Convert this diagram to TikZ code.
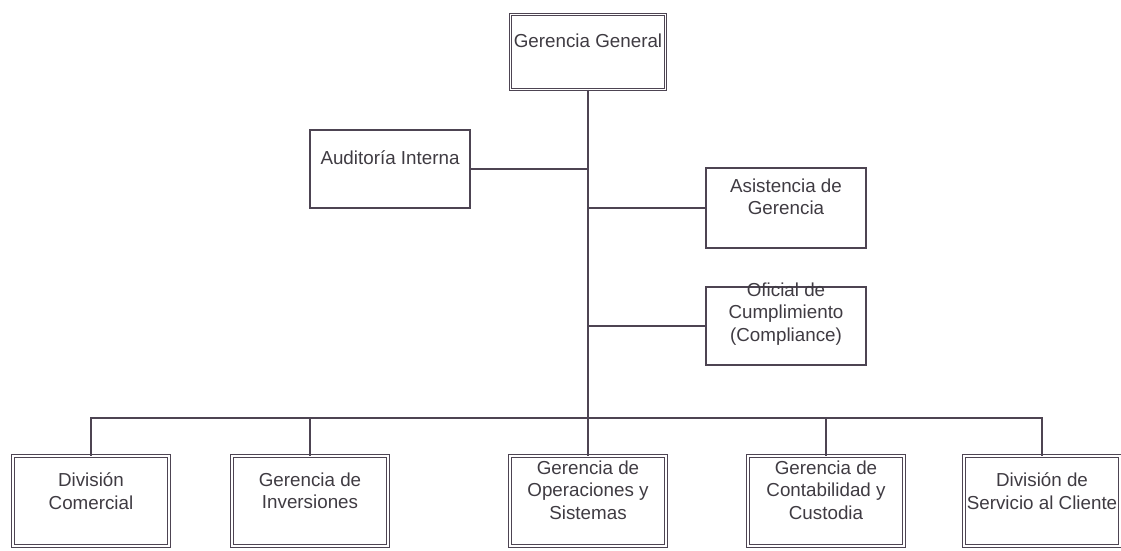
\documentclass[tikz,border=0pt]{standalone}
\usepackage{fontspec}
\setmainfont{Liberation Sans}
\usepackage{xcolor}
\usepackage{tikz}
\usetikzlibrary{
    positioning
}
\definecolor{framec}{HTML}{4D4452}
\definecolor{textc}{HTML}{3F3B42}

\begin{document}
\begin{tikzpicture}[
        x=1pt, y=-1pt,
        box/.style={
            rectangle,
            draw=framec,
            line width=1.3pt,
            minimum width=160pt,
            minimum height=78pt
        },
        dbox/.style={
            rectangle,
            draw=framec,
            double,
            line width=0.8pt,
            double distance=1.6pt,
            minimum width=156pt,
            minimum height=90pt
        },
        txt/.style={
            align=center,
            text=textc,
            inner sep=0pt,
            font=\fontsize{18.8}{22.5}\selectfont
        },
        line/.style={
            draw=framec,
            line width=1.2pt
        }
    ]

    \useasboundingbox (0,0) rectangle (1121,550);

    \node[dbox, minimum width=155pt, minimum height=75pt] (gg) at (588,52) {};
    \node[txt] (gg-txt) at ([yshift=11pt]gg.center) {Gerencia General};

    \node[box] (aud) at (390,169) {};
    \node[txt] (aud-txt) at ([yshift=11pt]aud.center) {Auditoría Interna};

    \node[box, minimum height=80pt] (asis) at (786,208) {};
    \node[txt] (asis-txt) at ([yshift=11pt]asis.center) {Asistencia de\\Gerencia};

    \node[box] (ofic) at (786,326) {};
    \node[txt] (ofic-txt) at ([yshift=12pt]ofic.center)
        {Oficial de\\Cumplimiento\\(Compliance)};

    \node[dbox] (divc) at (91,501) {};
    \node[txt] (divc-txt) at ([yshift=10pt]divc.center) {División\\Comercial};

    \node[dbox] (inv) at (310,501) {};
    \node[txt] (inv-txt) at ([yshift=10pt]inv.center) {Gerencia de\\Inversiones};

    \node[dbox] (ops) at (588,501) {};
    \node[txt] (ops-txt) at ([yshift=11pt]ops.center)
        {Gerencia de\\Operaciones y\\Sistemas};

    \node[dbox] (cont) at (826,501) {};
    \node[txt] (cont-txt) at ([yshift=11pt]cont.center)
        {Gerencia de\\Contabilidad y\\Custodia};

    \node[dbox] (sac) at (1042,501) {};
    \node[txt] (sac-txt) at ([yshift=10pt]sac.center)
        {División de\\Servicio al Cliente};

    \coordinate (bus) at (588,418);

    \draw[line] (gg.south) -- (bus);
    \draw[line] (aud.east) -- (aud.east -| gg.south);
    \draw[line] (asis.west -| gg.south) -- (asis.west);
    \draw[line] (ofic.west -| gg.south) -- (ofic.west);

    \draw[line] (divc.north) |- (bus) -| (sac.north);
    \draw[line] (inv.north) -- (inv.north |- bus);
    \draw[line] (bus) -- (ops.north);
    \draw[line] (cont.north) -- (cont.north |- bus);

\end{tikzpicture}
\end{document}
